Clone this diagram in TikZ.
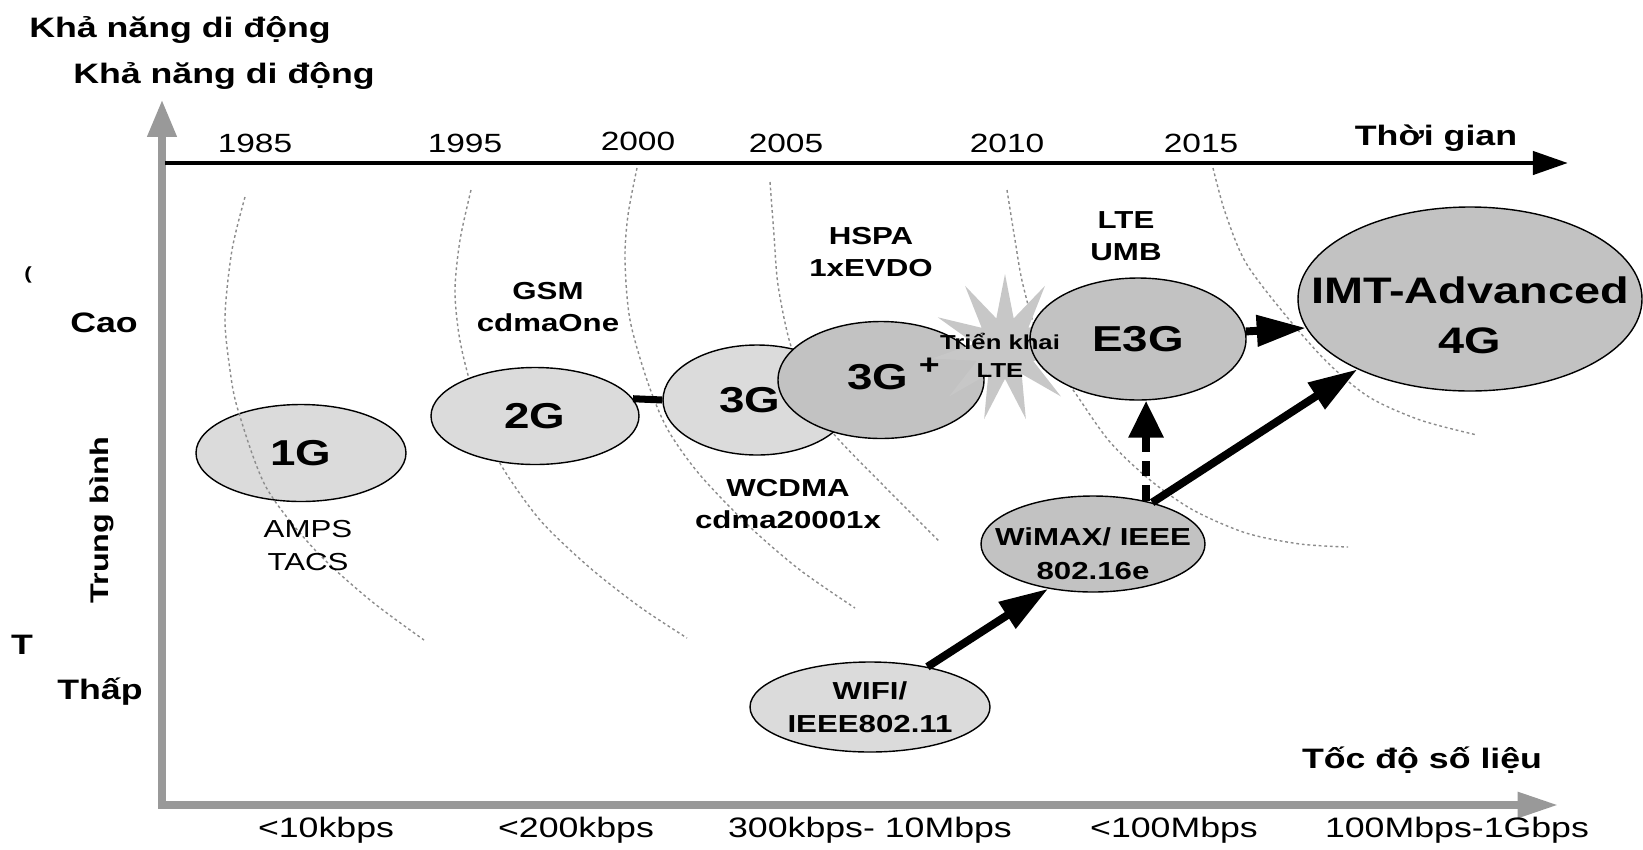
\documentclass[tikz,border=0pt]{standalone}
\usepackage{fontspec}
\setmainfont[FakeStretch=1.27]{Liberation Sans}
\usetikzlibrary{positioning}
\usetikzlibrary{arrows.meta}
\usetikzlibrary{shapes.geometric}
\definecolor{genlite}{gray}{0.86}
\definecolor{gendark}{gray}{0.76}
\definecolor{burstgray}{gray}{0.78}
\definecolor{axisgray}{gray}{0.6}
\definecolor{eragray}{gray}{0.55}
\tikzset{oldgen/.style = {ellipse, draw, line width=0.8pt, fill=genlite, inner sep=0}}
\tikzset{newgen/.style = {ellipse, draw, line width=0.8pt, fill=gendark, inner sep=0}}
\tikzset{dims/.style 2 args = {minimum width=#1*0.02cm, minimum height=#2*0.02cm}}
\tikzset{gentext/.style = {font=\bfseries\fontsize{20.5}{28.5}\selectfont, align=center, inner sep=0}}
\tikzset{tech/.style = {font=\bfseries\fontsize{14}{18.5}\selectfont, align=center, inner sep=0}}
\tikzset{oldtech/.style = {font=\fontsize{14}{18.8}\selectfont, align=center, inner sep=0}}
\tikzset{year/.style = {font=\fontsize{15}{18}\selectfont, anchor=base, inner sep=0}}
\tikzset{rate/.style = {font=\fontsize{16}{19}\selectfont, anchor=base, inner sep=0}}
\tikzset{axname/.style = {font=\bfseries\fontsize{16}{19}\selectfont, anchor=base, inner sep=0}}
\tikzset{mobility/.style = {font=\bfseries\fontsize{16}{19}\selectfont, inner sep=0}}
\tikzset{era/.style = {eragray, line width=0.8pt, dash pattern=on 1.6pt off 1.6pt}}
\tikzset{burst/.style = {star, star points=11, star point ratio=2.4, minimum size=148*0.02cm, fill=burstgray, inner sep=0}}
\tikzset{push/.style = {line width=4.5pt, -{Triangle[length=28pt, width=17pt]}}}
\tikzset{dashpush/.style = {line width=4.5pt, dash pattern=on 9pt off 5pt, -{Triangle[length=21pt, width=19pt]}}}

\begin{document}
\begin{tikzpicture}[x=0.02cm, y=-0.02cm]
  \useasboundingbox (0,0) rectangle (1643,849);
  \node[mobility, anchor=base west] (mob1) at (29,37) {Khả năng di động};
  \node[mobility, anchor=base west] (mob2) at (73,83) {Khả năng di động};
  \node[mobility, font=\bfseries\fontsize{10}{12}\selectfont] (frag1) at (28,275) {(};
  \node[mobility] (frag2) at (22,645) {T};
  \node[mobility, anchor=base] (cao) at (104,332) {Cao};
  \node[mobility, font=\bfseries\fontsize{14.5}{18}\selectfont, rotate=90] (mid) at (102,520) {Trung bình};
  \node[mobility, anchor=base] (thap) at (100,699) {Thấp};

  \coordinate (origin) at (162,805);
  \coordinate (ytip) at (162,100);
  \coordinate (xtip) at (1558,805);
  \draw[axisgray, line width=4pt, {Triangle[length=21pt, width=16pt]}-{Triangle[length=23pt, width=14pt]}] (ytip) -- (origin) -- (xtip);
  \coordinate (t0) at (165,163);
  \coordinate (t1) at (1568,163);
  \draw[line width=2.8pt, -{Triangle[length=20pt, width=13pt]}] (t0) -- (t1);

  \node[year] (y1985) at (255,152) {1985};
  \node[year] (y1995) at (465,152) {1995};
  \node[year] (y2000) at (638,150) {2000};
  \node[year] (y2005) at (786,152) {2005};
  \node[year] (y2010) at (1007,152) {2010};
  \node[year] (y2015) at (1201,152) {2015};
  \node[axname] (time) at (1436,145) {Thời gian};
  \node[axname] (speed) at (1422,768) {Tốc độ số liệu};

  \node[rate] (r1) at (326,837) {<10kbps};
  \node[rate] (r2) at (576,837) {<200kbps};
  \node[rate] (r3) at (870,837) {300kbps- 10Mbps};
  \node[rate] (r4) at (1174,837) {<100Mbps};
  \node[rate] (r5) at (1457,837) {100Mbps-1Gbps};

  \node[oldgen, dims={210}{97}, gentext] (g1) at (301,453) {1G};

  \draw[era] plot[smooth] coordinates {(245,197) (232,250) (225,317) (230,370) (238,410) (266,487) (315,550) (370,600) (424,640)};
  \draw[era] plot[smooth] coordinates {(471,190) (460,240) (455,290) (459,335) (468,375) (482,420) (501,465) (540,520) (589,567) (640,607) (687,638)};
  \draw[era] plot[smooth] coordinates {(637,168) (628,215) (625,260) (630,320) (648,383) (668,430) (700,475) (750,527) (800,570) (855,608)};
  \draw[era] plot[smooth] coordinates {(770,182) (774,235) (778,285) (790,343) (810,395) (833,433) (883,485) (940,542)};
  \draw[era] plot[smooth] coordinates {(1007,190) (1015,240) (1023,285) (1040,340) (1078,397) (1110,442) (1150,480) (1193,510) (1246,533) (1300,544) (1348,547)};
  \draw[era] plot[smooth] coordinates {(1213,168) (1225,212) (1246,263) (1287,317) (1328,363) (1369,397) (1420,420) (1477,435)};

  \node[oldtech] (amps) at (308,546) {AMPS\\TACS};
  \node[tech] (gsm) at (548,307) {GSM\\cdmaOne};
  \node[tech] (hspa) at (871,252) {HSPA\\1xEVDO};
  \node[tech] (wcdma) at (788,504) {WCDMA\\cdma20001x};
  \node[tech] (umb) at (1126,236) {LTE\\UMB};

  \node[oldgen, dims={208}{97}, gentext] (g2) at (535,416) {2G};
  \node[oldgen, dims={188}{110}, label={[gentext, xshift=-0.14cm]center:3G}] (g3) at (757,400) {};
  \draw[line width=4pt] (g2.10) -- (g3.west);
  \node[newgen, dims={206}{117}, label={[gentext, xshift=0.25cm, yshift=0.12cm]center:{3G\hspace{6pt}\raisebox{9pt}{\bfseries\fontsize{16}{16}\selectfont +}}}] (g3p) at (881,380) {};
  \node[burst] (burst) at (1005,348) {};
  \node[newgen, dims={216}{122}, gentext] (e3g) at (1138,339) {E3G};
  \node[tech, font=\bfseries\fontsize{11.5}{16}\selectfont] (rollout) at (1000,355) {Triển khai\\LTE};
  \node[newgen, dims={344}{184}, label={[gentext, font=\bfseries\fontsize{21}{28.5}\selectfont, yshift=-0.32cm]center:{IMT-Advanced\\4G}}] (imt) at (1470,299) {};
  \node[newgen, dims={224}{96}, label={[tech, font=\bfseries\fontsize{14}{19.3}\selectfont, yshift=-0.2cm]center:{WiMAX/ IEEE\\802.16e}}] (wimax) at (1093,544) {};
  \node[oldgen, dims={240}{90}, tech] (wifi) at (870,707) {WIFI/\\IEEE802.11};

  \draw[push] (e3g.4) -- (imt.190);
  \draw[push] (wimax.35) -- (imt.212);
  \draw[push] (wifi.35) -- (wimax.225);
  \draw[dashpush] (wimax.39) -- (wimax.39 |- e3g.south);
\end{tikzpicture}
\end{document}
